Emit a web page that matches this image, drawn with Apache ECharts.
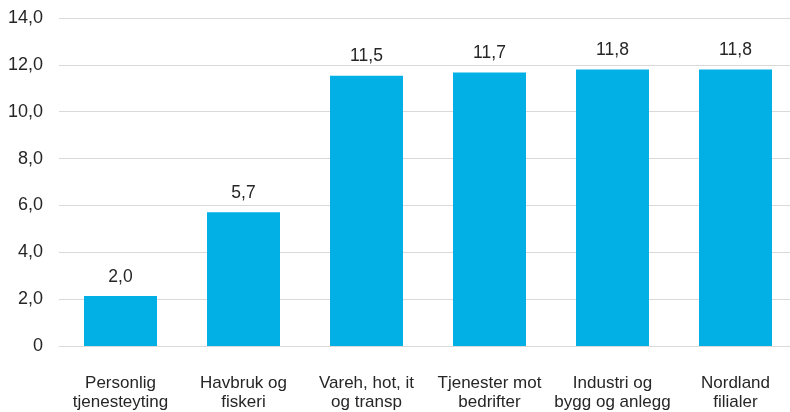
<!DOCTYPE html>
<html>
<head>
<meta charset="utf-8">
<script src="https://cdn.jsdelivr.net/npm/echarts@6/dist/echarts.min.js"></script>
<style>
  html, body { margin: 0; padding: 0; background: #fff; overflow: hidden; }
  #main { width: 797px; height: 412px; }
</style>
</head>
<body>
<div id="main"></div>
<script>
const categories = [
    'Personlig\ntjenesteyting',
    'Havbruk og\nfiskeri',
    'Vareh, hot, it\nog transp',
    'Tjenester mot\nbedrifter',
    'Industri og\nbygg og anlegg',
    'Nordland\nfilialer'
];
const values = [2.13, 5.71, 11.54, 11.67, 11.8, 11.8];
const valueLabels = ['2,0', '5,7', '11,5', '11,7', '11,8', '11,8'];
const yTicks = [0, 2, 4, 6, 8, 10, 12, 14];
const yTickLabels = ['0', '2,0', '4,0', '6,0', '8,0', '10,0', '12,0', '14,0'];

const chart = echarts.init(document.getElementById('main'));
const textColor = '#262626';
const font = '"Liberation Sans", Arial, sans-serif';

chart.setOption({
    animation: false,
    // plot runs a few px past the right edge of the window, like the original crop
    grid: { left: 59, right: 0, top: 18, bottom: 66, containLabel: false },
    xAxis: {
        type: 'category',
        data: categories,
        axisLine: { lineStyle: { color: '#d9d9d9', width: 1 } },
        axisTick: { show: false },
        axisLabel: {
            interval: 0,
            margin: 28,
            color: textColor,
            fontSize: 17,
            lineHeight: 19,
            fontFamily: font
        }
    },
    yAxis: {
        type: 'value',
        min: 0,
        max: 14,
        interval: 2,
        axisLine: { show: false },
        axisTick: { show: false },
        splitLine: { lineStyle: { color: '#d9d9d9', width: 1 } },
        axisLabel: {
            margin: 16,
            color: textColor,
            fontSize: 18,
            fontFamily: font,
            padding: [4, 0, 0, 0],
            formatter: v => yTickLabels[yTicks.indexOf(v)]
        }
    },
    series: [{
        type: 'bar',
        data: values,
        barWidth: 73,
        itemStyle: { color: '#02b0e6' },
        label: {
            show: true,
            position: 'top',
            distance: 10,
            color: textColor,
            fontSize: 17.5,
            fontFamily: font,
            formatter: p => valueLabels[p.dataIndex]
        }
    }]
});
</script>
</body>
</html>
